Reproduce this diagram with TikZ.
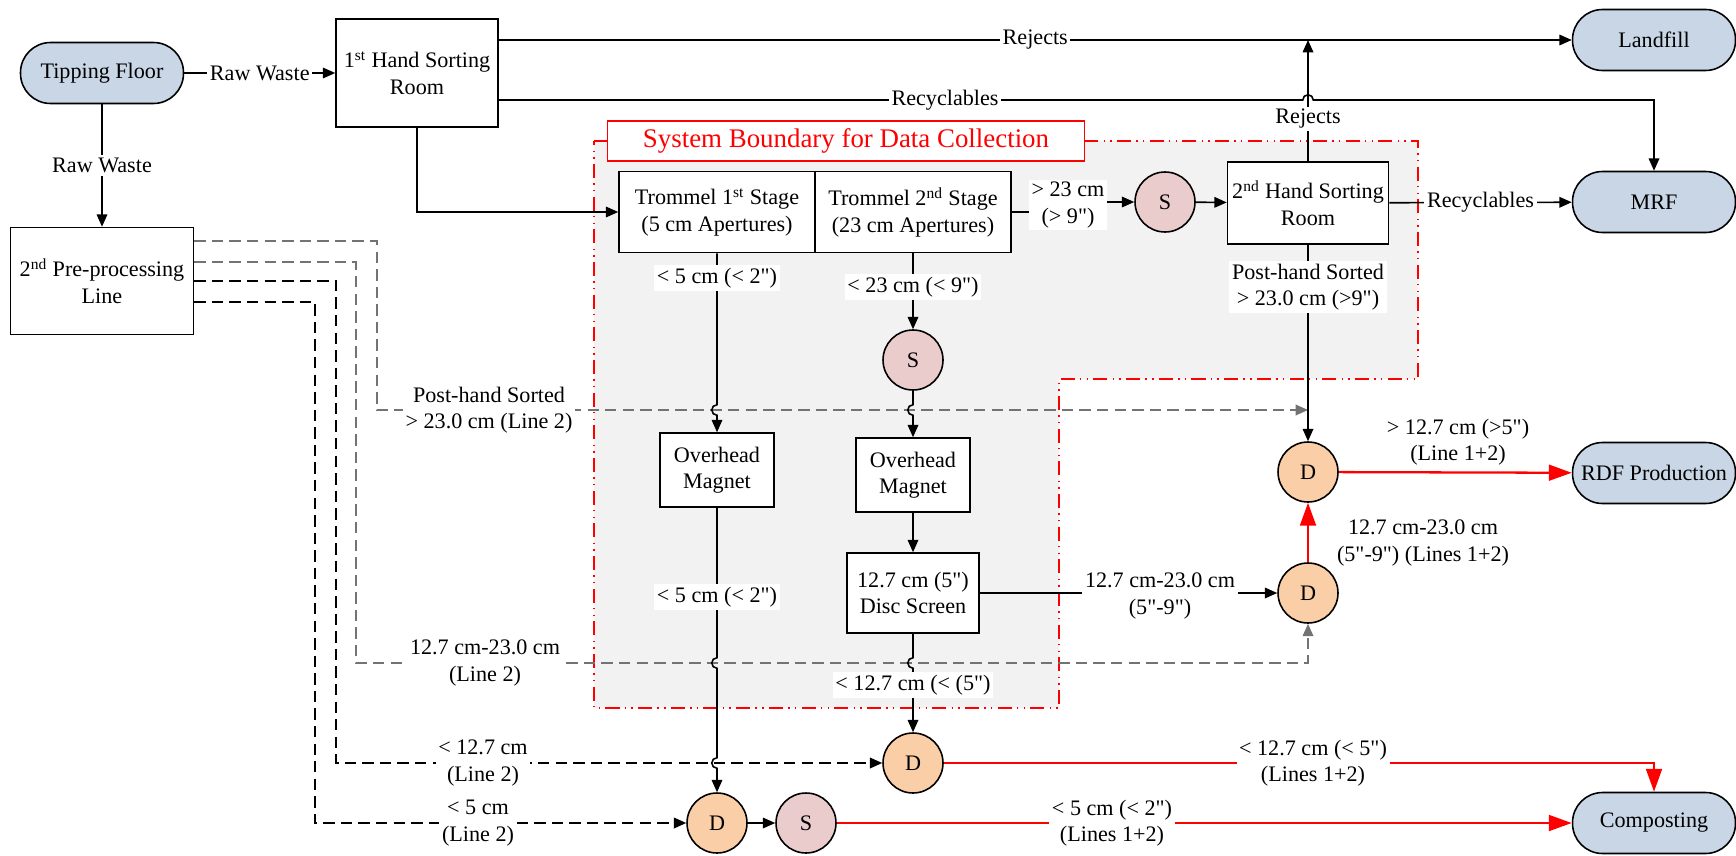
\documentclass[tikz,border=0pt]{standalone}
\usepackage{fontspec}
\setmainfont{Liberation Serif}[Ligatures=TeXOff]
\usetikzlibrary{arrows.meta,positioning,calc}
\definecolor{termblue}{RGB}{200,214,230}
\definecolor{dorange}{RGB}{250,206,166}
\definecolor{spink}{RGB}{234,204,204}
\definecolor{zonegray}{RGB}{242,242,242}
\newcommand{\diagfont}{\fontsize{12.6}{15}\selectfont}

\begin{document}
\begin{tikzpicture}[x=0.02cm, y=-0.02cm,
  box/.style={draw, line width=0.9pt, fill=white, align=center, font=\diagfont, inner sep=2pt},
  term/.style={draw, line width=0.9pt, fill=termblue, rounded corners=0.6cm,
               minimum width=3.26cm, minimum height=1.22cm, inner xsep=1pt, font=\diagfont},
  dnode/.style={circle, draw, line width=0.9pt, fill=dorange, minimum size=1.2cm,
                inner sep=0pt, font=\diagfont},
  snode/.style={dnode, fill=spink},
  lbl/.style={fill=white, inner sep=1.5pt, align=center, font=\diagfont},
  arr/.style={-{Triangle[length=7pt,width=6pt]}, line width=0.9pt},
  rarr/.style={-{Triangle[length=13pt,width=9pt]}, red, line width=1.3pt},
  dline/.style={dash pattern=on 6.5pt off 3.5pt, line width=1pt},
  zoneline/.style={red, line width=1.2pt,
                   dash pattern=on 8pt off 3pt on 0.8pt off 3pt on 0.8pt off 3pt}
]
\useasboundingbox (0,0) rectangle (1736,855);

% system boundary
\fill[zonegray] (594,141) -- (1418,141) -- (1418,379) -- (1059,379) -- (1059,708) -- (594,708) -- cycle;
\draw[zoneline] (594,141) -- (1418,141) -- (1418,379) -- (1059,379) -- (1059,708) -- (594,708) -- cycle;
\node[draw=red, fill=white, text=red, line width=0.8pt, minimum width=9.54cm, minimum height=0.8cm,
      font=\fontsize{15.3}{18}\selectfont] (zone) at (846,141) {System Boundary for Data Collection};

\node[term] (tip) at (102,73) {Tipping Floor};
\node[box, minimum width=3.24cm, minimum height=2.16cm] (hs1) at (417,73) {1\textsuperscript{st} Hand Sorting\\Room};
\node[box, minimum width=3.66cm, minimum height=2.14cm] (pre2) at (102,281) {2\textsuperscript{nd} Pre-processing\\Line};
\node[box, minimum width=3.92cm, minimum height=1.62cm] (tr1) at (717,212) {Trommel 1\textsuperscript{st} Stage\\(5 cm Apertures)};
\node[box, minimum width=3.92cm, minimum height=1.62cm] (tr2) at (913,212) {Trommel 2\textsuperscript{nd} Stage\\(23 cm Apertures)};
\node[snode] (s1) at (1165,202) {S};
\node[box, minimum width=3.22cm, minimum height=1.64cm] (hs2) at (1308,203) {2\textsuperscript{nd} Hand Sorting\\Room};
\node[term] (land) at (1654,40) {Landfill};
\node[term] (mrf) at (1654,202) {MRF};
\node[term] (rdf) at (1654,473) {RDF Production};
\node[term] (comp) at (1654,823) {Composting};
\node[snode] (s2) at (913,360) {S};
\node[box, minimum width=2.28cm, minimum height=1.48cm] (mag1) at (717,470) {Overhead\\Magnet};
\node[box, minimum width=2.28cm, minimum height=1.48cm] (mag2) at (913,475) {Overhead\\Magnet};
\node[box, minimum width=2.64cm, minimum height=1.6cm] (disc) at (913,593) {12.7 cm (5")\\Disc Screen};
\node[dnode] (d1) at (1308,472) {D};
\node[dnode] (d2) at (1308,593) {D};
\node[dnode] (d3) at (913,763) {D};
\node[dnode] (d4) at (717,823) {D};
\node[snode] (s3) at (806,823) {S};

\coordinate (ph) at (377,410);
\coordinate (mid) at (356,663);
\coordinate (fine) at (336,763);
\coordinate (small) at (315,823);
\coordinate (rc) at ($(hs1.east)+(0,27)$);
\coordinate (hopR) at (hs2.north |- rc);
\coordinate (hopA) at (tr1.south |- ph);
\coordinate (hopB) at (s2.south |- ph);
\coordinate (hopC) at (mag1.south |- mid);
\coordinate (hopD) at (mag1.south |- fine);
\coordinate (hopE) at (disc.south |- mid);

% line 2 streams
\draw[arr, dline, black!55] ($(pre2.east)+(0,-40)$) -| (ph) -- (hs2.south |- ph);
\node[lbl] (lph2) at (489,410) {Post-hand Sorted\\> 23.0 cm (Line 2)};
\draw[arr, dline, black!55] ($(pre2.east)+(0,-19)$) -| (mid) -| (d2.south);
\node[lbl] (lmid2) at (485,663) {12.7 cm-23.0 cm\\(Line 2)};
\draw[arr, dline] (pre2.east) -| (fine) -- (d3.west);
\node[lbl] (lfine2) at (483,763) {< 12.7 cm\\(Line 2)};
\draw[arr, dline] ($(pre2.east)+(0,21)$) -| (small) -- (d4.west);
\node[lbl] (lsmall2) at (478,823) {< 5 cm\\(Line 2)};

% line 1
\draw[arr] (tip) -- node[lbl] (lraw1) {Raw Waste} (hs1);
\draw[arr] (tip) -- node[lbl] (lraw2) {Raw Waste} (pre2);
\draw[arr] (hs1.east |- land.west) -- node[lbl] (lrej1) {Rejects} (land.west);
\draw[arr] (rc) -- ([xshift=-3pt]hopR) arc[start angle=180, end angle=0, radius=3pt] -| (mrf.north);
\node[lbl] (lrec1) at (945,100) {Recyclables};
\draw[arr] (hs1.south) |- (tr1.west);
\draw[arr] (tr2.east) -- ++(56,0) |- (s1.west);
\node[lbl] (l23) at (1068,205) {> 23 cm\\(> 9")};
\draw[arr] (s1) -- (hs2);
\draw[arr] (hs2.north) -- (hs2.north |- land.west);
\node[lbl] (lrej2) at (1308,119) {Rejects};
\draw[arr] (hs2) -- node[lbl] (lrec2) {Recyclables} (mrf);
\draw[arr] (hs2) -- (d1);
\node[lbl] (lph1) at (1308,287) {Post-hand Sorted\\> 23.0 cm (>9")};
\draw[arr] (tr1.south) -- ([yshift=3pt]hopA) arc[start angle=90, end angle=270, radius=3pt] -- (mag1.north);
\node[lbl] (l5a) at (717,278) {< 5 cm (< 2")};
\draw[arr] (tr2.south) -- (s2.north);
\node[lbl] (l23b) at (913,287) {< 23 cm (< 9")};
\draw[arr] (s2.south) -- ([yshift=3pt]hopB) arc[start angle=90, end angle=270, radius=3pt] -- (mag2.north);
\draw[arr] (mag2) -- (disc);
\draw[arr] (mag1.south) -- ([yshift=3pt]hopC) arc[start angle=90, end angle=270, radius=3pt]
  -- ([yshift=3pt]hopD) arc[start angle=90, end angle=270, radius=3pt] -- (d4.north);
\node[lbl] (l5b) at (717,597) {< 5 cm (< 2")};
\draw[arr] (disc.east) -- (d2.west);
\node[lbl] (lmid1) at (1160,596) {12.7 cm-23.0 cm\\(5"-9")};
\draw[arr] (disc.south) -- ([yshift=3pt]hopE) arc[start angle=90, end angle=270, radius=3pt] -- (d3.north);
\node[lbl] (l127) at (913,685) {< 12.7 cm (< (5")};
\draw[arr] (d4) -- (s3);

% combined lines 1+2
\draw[rarr] (d2) -- (d1);
\node[lbl] (lr1) at (1423,543) {12.7 cm-23.0 cm\\(5"-9") (Lines 1+2)};
\draw[rarr] (d1) -- (rdf);
\node[lbl] (lr2) at (1458,442) {> 12.7 cm (>5")\\(Line 1+2)};
\draw[rarr] (d3) -| (comp.north);
\node[lbl] (lr3) at (1313,763) {< 12.7 cm (< 5")\\(Lines 1+2)};
\draw[rarr] (s3) -- (comp);
\node[lbl] (lr4) at (1112,823) {< 5 cm (< 2")\\(Lines 1+2)};
\end{tikzpicture}
\end{document}
